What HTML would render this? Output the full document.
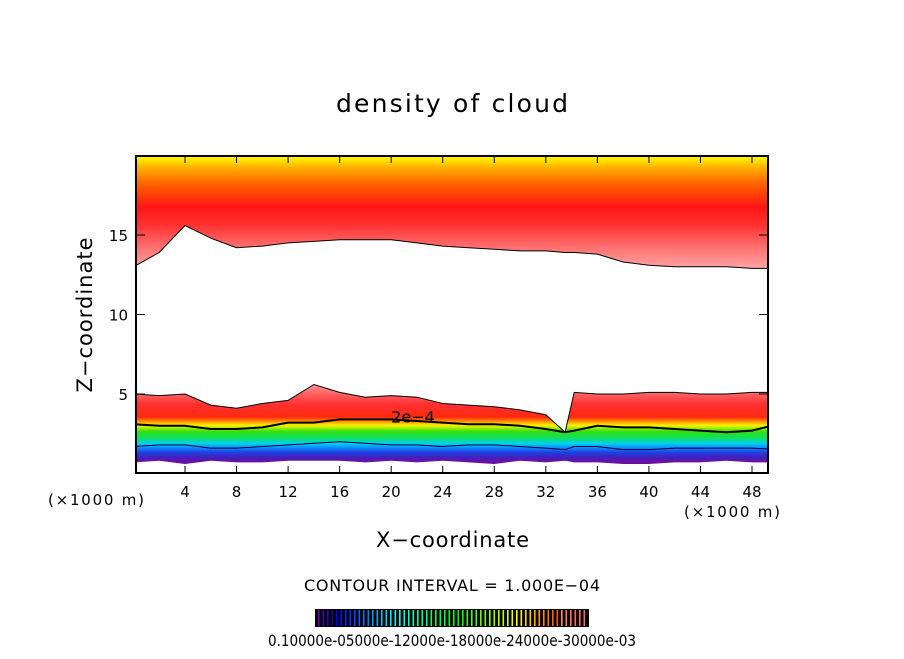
<!DOCTYPE html>
<html><head><meta charset="utf-8"><style>
body{margin:0;background:#fff}
svg text{font-family:"DejaVu Sans","Liberation Sans",sans-serif;fill:#000}
</style></head><body>
<svg id="c" width="904" height="654" xmlns="http://www.w3.org/2000/svg">
<defs>
<linearGradient id="gLow" gradientUnits="userSpaceOnUse" x1="0" x2="0" y1="462" y2="382">
<stop offset="0" stop-color="#6a10a0"/><stop offset="0.06" stop-color="#4020c0"/><stop offset="0.12" stop-color="#2040e0"/>
<stop offset="0.17" stop-color="#1080ff"/><stop offset="0.23" stop-color="#00d0f0"/><stop offset="0.3" stop-color="#10e060"/>
<stop offset="0.38" stop-color="#30e010"/><stop offset="0.43" stop-color="#b0f000"/><stop offset="0.46" stop-color="#ffee00"/>
<stop offset="0.5" stop-color="#ffa000"/><stop offset="0.56" stop-color="#ff2a10"/><stop offset="0.72" stop-color="#ff3030"/>
<stop offset="0.86" stop-color="#ff6565"/><stop offset="1" stop-color="#ffa0a0"/></linearGradient>
<linearGradient id="gUp" gradientUnits="userSpaceOnUse" x1="0" x2="0" y1="270" y2="156">
<stop offset="0" stop-color="#ffa8a8"/><stop offset="0.2" stop-color="#ff7070"/><stop offset="0.4" stop-color="#ff3030"/>
<stop offset="0.55" stop-color="#ff1515"/><stop offset="0.75" stop-color="#ff6000"/><stop offset="0.9" stop-color="#ffb000"/><stop offset="1" stop-color="#ffff00"/></linearGradient>
<clipPath id="pc"><rect x="136" y="156" width="632" height="317"/></clipPath>
</defs>
<text x="336" y="112" font-size="25" textLength="232" lengthAdjust="spacing">density of cloud</text>
<g id="plot" clip-path="url(#pc)"></g>
<rect x="136" y="156" width="632" height="317" fill="none" stroke="#000" stroke-width="2"/>
<g id="axes"></g>
<text x="48" y="505" font-size="15" textLength="96" lengthAdjust="spacing">(×1000 m)</text>
<text x="684" y="517" font-size="15" textLength="96" lengthAdjust="spacing">(×1000 m)</text>
<text x="376" y="547" font-size="21" textLength="153" lengthAdjust="spacing">X−coordinate</text>
<text x="0" y="0" font-size="21" text-anchor="middle" textLength="155" lengthAdjust="spacing" transform="translate(92,315) rotate(-90)">Z−coordinate</text>
<text x="304" y="591" font-size="16" textLength="296" lengthAdjust="spacing">CONTOUR INTERVAL = 1.000E−04</text>
<g id="cbar"></g>
<text x="268" y="646" font-size="16" textLength="368" lengthAdjust="spacingAndGlyphs">0.10000e-05000e-12000e-18000e-24000e-30000e-03</text>
</svg>
<script>
const xs=[0,2,4,6,8,10,12,14,16,18,20,22,24,26,28,30,32,33.5,34.2,36,38,40,42,44,46,48,50];
const upperBase=[13.0,13.9,15.6,14.8,14.2,14.3,14.5,14.6,14.7,14.7,14.7,14.5,14.3,14.2,14.1,14.0,14.0,13.9,13.9,13.8,13.3,13.1,13.0,13.0,13.0,12.9,12.9];
const lowerTop=[5.0,4.9,5.0,4.3,4.1,4.4,4.6,5.6,5.1,4.8,4.9,4.8,4.4,4.3,4.2,4.0,3.7,2.6,5.1,5.0,5.0,5.1,5.1,5.0,5.0,5.1,5.1];
const contour3=[3.1,3.0,3.0,2.8,2.8,2.9,3.2,3.2,3.4,3.4,3.4,3.3,3.2,3.1,3.1,3.0,2.8,2.6,2.7,3.0,2.9,2.9,2.8,2.7,2.6,2.7,3.1];
const contour1=[1.7,1.8,1.8,1.6,1.6,1.7,1.8,1.9,2.0,1.9,1.8,1.8,1.7,1.8,1.8,1.7,1.6,1.5,1.7,1.7,1.5,1.5,1.6,1.6,1.6,1.6,1.5];
const base=[0.7,0.8,0.6,0.8,0.7,0.7,0.8,0.8,0.8,0.7,0.8,0.7,0.8,0.7,0.6,0.8,0.7,0.8,0.7,0.7,0.6,0.6,0.7,0.7,0.8,0.7,0.7];
const xTicks=[4,8,12,16,20,24,28,32,36,40,44,48];
const yTicks=[5,10,15];
const cbarLevels=[1,2,3,4,5,6,7,8,9,10,11,12,13,14,15,16,17,18,19,20,21,22,23,24,25,26,27,28,29,30,31,32,33,34,35,36,37,38,39,40,41,42,43,44,45,46,47,48,49,50,51,52,53,54,55,56,57,58,59,60];
const X=v=>185+(v-4)*(752-185)/44;
const Y=v=>473.5-v*15.9;
const NS="http://www.w3.org/2000/svg";
function mk(t,a,p){const e=document.createElementNS(NS,t);for(const k in a)e.setAttribute(k,a[k]);p.appendChild(e);return e;}
const plot=document.getElementById('plot');
const line=arr=>xs.map((x,i)=>X(x).toFixed(1)+','+Y(arr[i]).toFixed(1));
let up=mk('polygon',{points:line(upperBase).join(' ')+' '+X(50)+','+Y(21)+' '+X(0)+','+Y(21),fill:'url(#gUp)'},plot);


let low=mk('polygon',{points:line(lowerTop).join(' ')+' '+line(base).reverse().join(' '),fill:'url(#gLow)'},plot);


const edges=[[upperBase,'#000',1,'upper-cloud-edge'],[lowerTop,'#000',1,'lower-cloud-edge'],[contour3,'#000',2,'contour-3e-4'],[contour1,'#003',1,'contour-1e-4']];
edges.forEach(([a,c,w,n])=>{const p=mk('polyline',{points:line(a).join(' '),fill:'none',stroke:c,'stroke-width':w},plot);

});
const lab=mk('text',{x:X(20),y:Y(3.2),'font-size':16},plot);lab.textContent='2e−4';


const ax=document.getElementById('axes');
xTicks.forEach(t=>{mk('line',{x1:X(t),x2:X(t),y1:473,y2:466,stroke:'#000'},ax);mk('line',{x1:X(t),x2:X(t),y1:156,y2:163,stroke:'#000'},ax);
const tx=mk('text',{x:X(t),y:497,'font-size':15,'text-anchor':'middle'},ax);tx.textContent=t;

});
yTicks.forEach(t=>{mk('line',{x1:136,x2:145,y1:Y(t),y2:Y(t),stroke:'#000'},ax);mk('line',{x1:768,x2:759,y1:Y(t),y2:Y(t),stroke:'#000'},ax);
const ty=mk('text',{x:128,y:Y(t)+6,'font-size':15,'text-anchor':'end'},ax);ty.textContent=t;

});
const cb=document.getElementById('cbar');
const bg=mk('rect',{x:315,y:609,width:274,height:18,fill:'#000'},cb);


cbarLevels.forEach((l,i)=>{
const c='hsl('+(i<4?275-i*10:Math.max(0,240-(i-4)*4.5))+',100%,'+(i>53?70:i<4?35:50)+'%)';
mk('rect',{x:318+i*4.5,y:610,width:1.6,height:16,fill:c},cb);});
</script>
</body></html>
